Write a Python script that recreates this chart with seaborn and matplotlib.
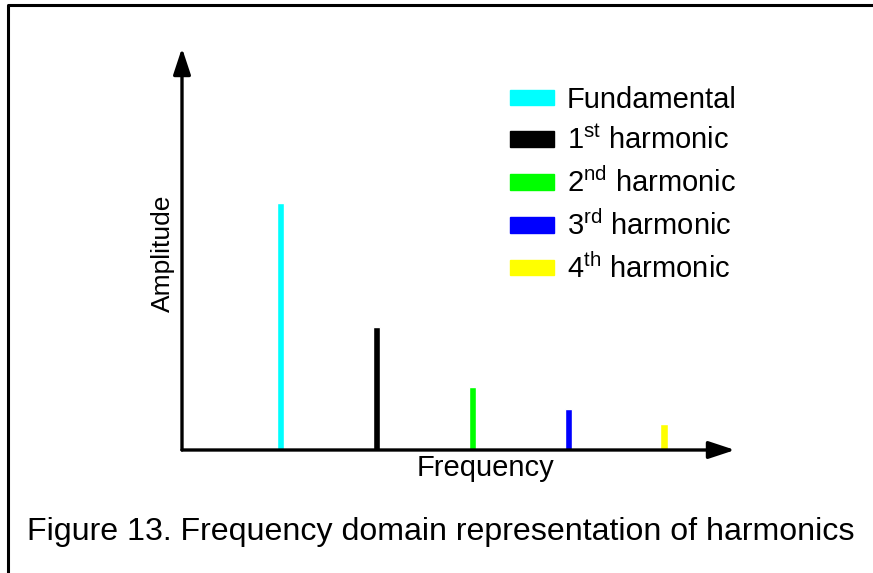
import pandas as pd
import numpy as np
import matplotlib.pyplot as plt
import seaborn as sb
from matplotlib.lines import Line2D

labels = ["Fundamental", "1$^{\\rm st}$ harmonic", "2$^{\\rm nd}$ harmonic",
          "3$^{\\rm rd}$ harmonic", "4$^{\\rm th}$ harmonic"]
freq = [1, 2, 3, 4, 5]
amp = [1.0, 0.5, 0.255, 0.167, 0.105]
colors = ["#00ffff", "#000000", "#00ff00", "#0000ff", "#ffff00"]

df = pd.DataFrame({"freq": freq, "amp": amp, "label": labels})

sb.set_style("white")
plt.rcParams['font.family'] = ['Liberation Sans', 'DejaVu Sans']
plt.rcParams['mathtext.fontset'] = 'custom'
plt.rcParams['mathtext.rm'] = 'Liberation Sans'
plt.rcParams['text.color'] = 'black'
plt.rcParams['axes.labelcolor'] = 'black'

fig = plt.figure(figsize=(8.73, 5.73), dpi=100)
ax = fig.add_axes([182 / 873, 1 - 450 / 573, 553 / 873, 402 / 573])

sb.barplot(data=df, x="freq", y="amp", hue="label", palette=dict(zip(labels, colors)),
           native_scale=True, dodge=False, width=0.075, saturation=1, ax=ax, legend=False)
ax.set_xlim(-0.03, 5.74)
ax.set_ylim(0, 1.63)
ax.set_xticks([])
ax.set_yticks([])
for s in ax.spines.values():
    s.set_visible(False)
ax.set_xlabel("Frequency", fontsize=21)
ax.set_ylabel("Amplitude", fontsize=19)
ax.xaxis.set_label_coords(0.548, -0.01)
ax.yaxis.set_label_coords(-0.012, 0.49)

# arrow axes
arrow = dict(arrowstyle="-|>,head_length=1.0,head_width=0.33", lw=2.4, color="black",
             shrinkA=0, shrinkB=0, mutation_scale=16)
ax.annotate("", xy=(0, 1), xytext=(0, 0), xycoords="axes fraction", arrowprops=arrow)
ax.annotate("", xy=(1, 0), xytext=(0, 0), xycoords="axes fraction", arrowprops=arrow)

handles = [plt.Rectangle((0, 0), 1, 1, color=c) for c in colors]
fig.legend(handles, labels, loc="upper left", bbox_to_anchor=(510 / 873, 1 - 86 / 573),
           frameon=False, fontsize=21, handlelength=1.5, handleheight=0.45,
           handletextpad=0.45, labelspacing=0.42, borderpad=0, borderaxespad=0)

fig.text(441 / 873, 1 - 532 / 573, "Figure 13. Frequency domain representation of harmonics",
         fontsize=23.1, ha="center", va="center")

# frame of the figure (left and top)
fig.add_artist(Line2D([8 / 873, 8 / 873, 1], [0, 1 - 4.5 / 573, 1 - 4.5 / 573],
                      color="black", lw=2.2, transform=fig.transFigure))

fig.savefig("out.png", dpi=100)
